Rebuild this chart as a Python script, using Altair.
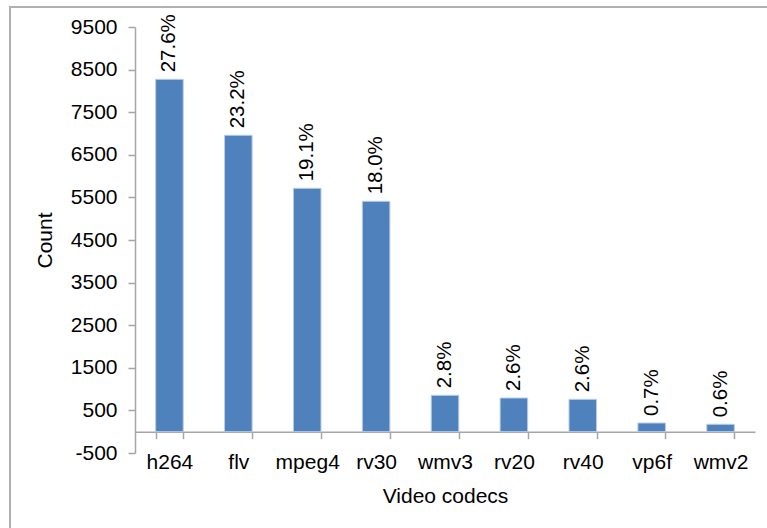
import altair as alt
import pandas as pd

# Video codec counts and their share of all videos
codecs = ["h264", "flv", "mpeg4", "rv30", "wmv3", "rv20", "rv40", "vp6f", "wmv2"]
counts = [8272, 6958, 5713, 5408, 854, 791, 760, 204, 174]
shares = ["27.6%", "23.2%", "19.1%", "18.0%", "2.8%", "2.6%", "2.6%", "0.7%", "0.6%"]
y_ticks = [-500, 500, 1500, 2500, 3500, 4500, 5500, 6500, 7500, 8500, 9500]

df = pd.DataFrame({"codec": codecs, "count": counts, "share": shares})

FONT = "Liberation Sans"
AXIS_GRAY = "#A6A6A6"

x_enc = alt.X(
    "codec:N",
    sort=codecs,
    title="Video codecs",
    scale=alt.Scale(paddingInner=0.6, paddingOuter=0.3),
    axis=alt.Axis(
        labelAngle=0,
        offset=-21.3,
        tickBand="extent",
        tickSize=7,
        labelPadding=13,
        titlePadding=13,
    ),
)
y_enc = alt.Y(
    "count:Q",
    title="Count",
    scale=alt.Scale(domain=[-500, 9500], nice=False, zero=False),
    axis=alt.Axis(
        values=y_ticks,
        labelExpr="'' + datum.value",
        grid=False,
        tickSize=7,
        labelPadding=11,
        titlePadding=15,
    ),
)

bars = alt.Chart(df).mark_bar(
    color="#4F81BD", stroke="#B9CDE5", strokeWidth=1
).encode(x=x_enc, y=y_enc, y2=alt.datum(0))

labels = alt.Chart(df).mark_text(
    angle=270, align="left", baseline="middle", dx=7, font=FONT, fontSize=20.5, color="#000000"
).encode(x=alt.X("codec:N", sort=codecs), y="count:Q", text="share:N")

# Outer frame of the figure
frame = alt.Chart(df).mark_rect(
    fill=None, stroke="#B0B0B0", strokeWidth=2
).encode(
    x=alt.value(-125), x2=alt.value(640), y=alt.value(-20), y2=alt.value(510)
)

chart = alt.layer(frame, bars, labels).properties(
    width=620,
    height=426,
    background="#FFFFFF",
    autosize=alt.AutoSizeParams(type="none"),
    padding={"left": 135, "top": 27, "right": 12, "bottom": 75},
).configure_view(stroke=None).configure_axis(
    domainColor=AXIS_GRAY,
    domainWidth=1.5,
    tickColor=AXIS_GRAY,
    tickWidth=1.5,
    labelFont=FONT,
    labelFontSize=21,
    labelColor="#000000",
    titleFont=FONT,
    titleFontSize=21,
    titleFontWeight="normal",
    titleColor="#000000",
)

chart.save("out.html", embed_options={"renderer": "svg", "actions": False})
